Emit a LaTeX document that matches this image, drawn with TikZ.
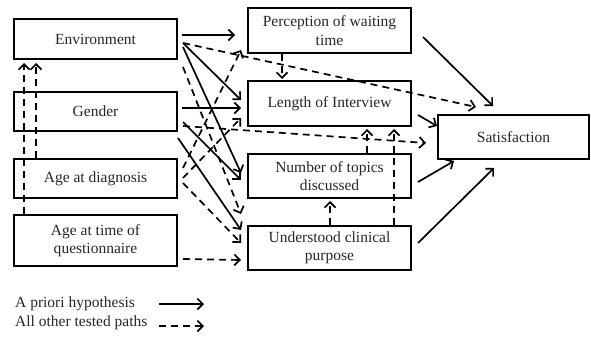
\documentclass[tikz,border=0pt]{standalone}
\usepackage{fontspec}
\setmainfont{Liberation Serif}
\usetikzlibrary{arrows.meta,calc}
\begin{document}
\begin{tikzpicture}[x=1pt,y=-1pt,
  box/.style={draw=black, line width=2pt, rectangle, align=center, inner sep=0pt,
    font=\fontsize{15.5}{18.5}\selectfont, text=black!85},
  sol/.style={line width=1.7pt, -{Straight Barb[length=5.5pt,width=11pt,line width=1.7pt]}},
  dsh/.style={sol, dash pattern=on 7pt off 5pt},
  lbl/.style={font=\fontsize{15.5}{18.5}\selectfont, text=black!85, inner sep=0pt, anchor=west}
]
\useasboundingbox (0,0) rectangle (591,337);
% boxes
\node[box, minimum width=163pt, minimum height=40pt] (env) at (95.5,39) {Environment};
\node[box, minimum width=163pt, minimum height=39pt] (gen) at (95.5,111.5) {Gender};
\node[box, minimum width=163pt, minimum height=39pt] (agd) at (95.5,178.5) {Age at diagnosis};
\node[box, minimum width=163pt, minimum height=51pt] (agq) at (95.5,240.5) {Age at time of\\questionnaire};
\node[box, minimum width=163pt, minimum height=45pt] (per) at (329.5,30.5) {Perception of waiting\\time};
\node[box, minimum width=163pt, minimum height=45pt] (len) at (329.5,103.5) {Length of Interview};
\node[box, minimum width=163pt, minimum height=44pt] (num) at (329.5,176) {Number of topics\\discussed};
\node[box, minimum width=163pt, minimum height=44pt] (und) at (329.5,248) {Understood clinical\\purpose};
\node[box, minimum width=151pt, minimum height=44pt] (sat) at (513.5,137) {Satisfaction};

% solid paths
\draw[sol] ($(env.east)+(4,-4)$) -- ($(per.west)+(-12,4.5)$);
\draw[sol] ($(env.east)+(5,4)$) -- ($(len.west)+(-6,-3.5)$);
\draw[sol] ($(env.east)+(5,8)$) -- ($(num.west)+(-6,-3)$);
\draw[sol] ($(gen.east)+(4,-3.5)$) -- ($(len.west)+(-6,4.5)$);
\draw[sol] ($(gen.east)+(5,10.5)$) -- ($(num.west)+(-6,4)$);
\draw[sol] ($(gen.south east)+(0,6)$) -- ($(und.west)+(-6,-18)$);
\draw[sol] ($(per.east)+(11,6.5)$) -- ($(sat.north)+(-20.5,-8)$);
\draw[sol] ($(len.east)+(6,11.5)$) -- ($(sat.west)+(0,-11)$);
\draw[sol] ($(num.east)+(6,6)$) -- ($(sat.south)+(-59.5,1)$);
\draw[sol] ($(und.east)+(6,-5)$) -- ($(sat.south)+(-19.5,8)$);

% dashed paths
\draw[dsh] ($(env.east)+(5,4)$) -- ($(sat.north)+(-37.5,-7)$);
\draw[dsh] ($(gen.east)+(5,14.5)$) -- ($(sat.west)+(-11,6)$);
\draw[dsh] ($(env.south east)+(5,7)$) -- ($(und.west)+(-6,-34)$);
\draw[dsh] ($(agd.east)+(5,-10.5)$) -- ($(per.west)+(-6,19.5)$);
\draw[dsh] ($(agd.east)+(5,-0.5)$) -- ($(len.west)+(-6,14.5)$);
\draw[dsh] ($(agd.east)+(5,4.5)$) -- ($(und.west)+(-6,-5)$);
\draw[dsh] ($(agq.east)+(5,18.5)$) -- ($(und.west)+(-6,12)$);
\draw[dsh] ($(agd.north west)+(23,0)$) -- ($(env.south west)+(23,3)$);
\draw[dsh] ($(agq.north west)+(11,0)$) -- ($(env.south west)+(11,3)$);
\draw[dsh] ($(per.south)+(-47.5,0)$) -- ($(len.north)+(-47.5,-1)$);
\draw[dsh] ($(num.north)+(37.5,0)$) -- ($(len.south)+(37.5,2)$);
\draw[dsh] ($(und.north)+(64.5,0)$) -- ($(len.south)+(64.5,2)$);
\draw[dsh] ($(und.north)+(0.5,0)$) -- ($(num.south)+(0.5,2)$);

% legend
\node[lbl] (l1) at (15,304) {A priori hypothesis};
\node[lbl] (l2) at (15,323) {All other tested paths};
\coordinate (a1s) at (159,304);
\coordinate (a1e) at (204,304);
\coordinate (a2s) at (159,326);
\coordinate (a2e) at (204,326);
\draw[sol] (a1s) -- (a1e);
\draw[dsh] (a2s) -- (a2e);
\end{tikzpicture}
\end{document}
